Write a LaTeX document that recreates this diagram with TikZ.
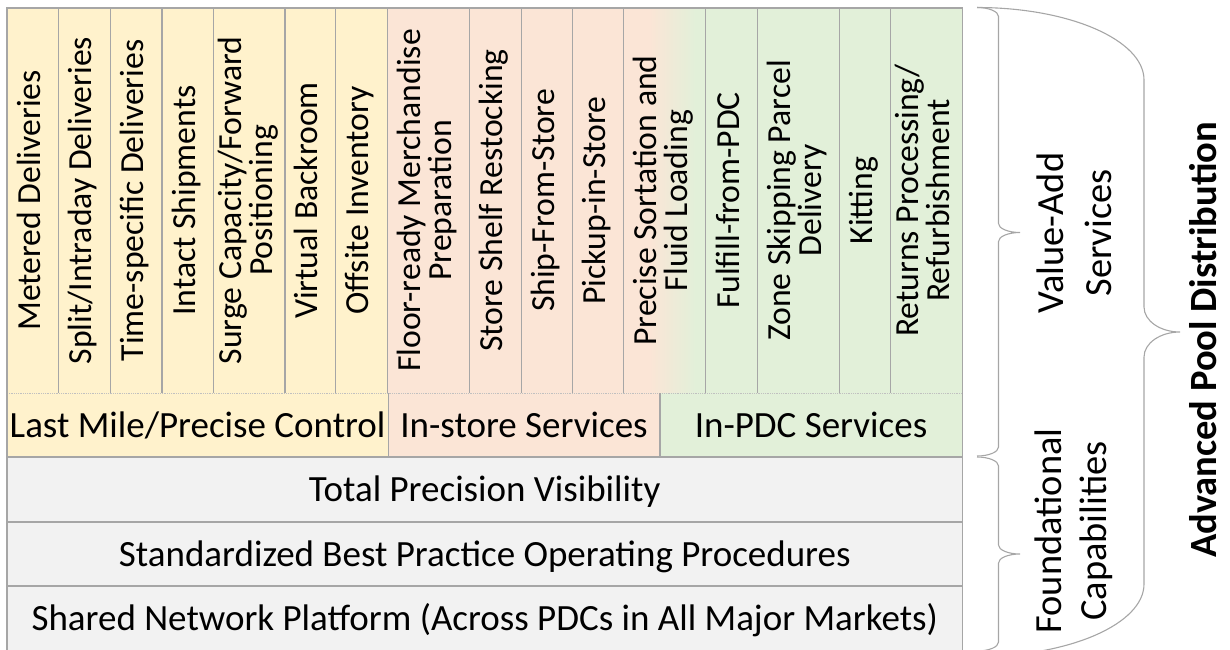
\documentclass[tikz,border=0pt]{standalone}
\usepackage{fontspec}
\setmainfont{Carlito}
\definecolor{cyel}{HTML}{FFF2CC}
\definecolor{cpea}{HTML}{FBE5D6}
\definecolor{cgre}{HTML}{E2F0D9}
\definecolor{cgry}{HTML}{F2F2F2}
\definecolor{cline}{HTML}{A6A6A6}
\definecolor{cdot}{HTML}{C0C0C0}
\newcommand{\vs}{\rule[-0.32em]{0pt}{1.08em}}
\newcommand{\hs}{\rule[-0.24em]{0pt}{1.14em}}
\newcommand{\colcell}[5]{%
  \fill[#4] (#1,8) rectangle (#2,393);
  \node[coltext] (#3) at ({(#1+#2)/2},200.5) {#5};}
\lineskiplimit=-100pt
\tikzset{
  coltext/.style={rotate=90, align=center, inner sep=0pt, text=black,
    font=\fontsize{33.7}{31}\selectfont},
  rowtext/.style={inner sep=0pt, text=black,
    font=\fontsize{37}{44}\selectfont},
  sidetext/.style={rotate=90, align=center, inner sep=0pt, text=black,
    font=\fontsize{38.4}{48}\selectfont},
  sidetextb/.style={rotate=90, align=center, inner sep=0pt, text=black,
    font=\fontsize{38.4}{45}\selectfont},
  boldtext/.style={rotate=90, inner sep=0pt, text=black,
    font=\fontsize{38.5}{45}\selectfont\bfseries},
  gridline/.style={draw=cline, line width=1.3pt},
  bracestyle/.style={draw=cline, line width=1.1pt},
}
\begin{document}
\begin{tikzpicture}[x=1pt, y=-1pt]
\useasboundingbox (0,0) rectangle (1230,649);
% top columns
\colcell{7}{58.3}{c1}{cyel}{\vs Metered Deliveries}
\colcell{58.3}{110.3}{c2}{cyel}{\vs Split/Intraday Deliveries}
\colcell{110.3}{162}{c3}{cyel}{\vs Time-specific Deliveries}
\colcell{162}{213.7}{c4}{cyel}{\vs Intact Shipments}
\colcell{213.7}{285}{c5}{cyel}{\vs Surge Capacity/Forward\\\vs Positioning}
\colcell{285}{335.7}{c6}{cyel}{\vs Virtual Backroom}
\colcell{335.7}{387.3}{c7}{cyel}{\vs Offsite Inventory}
\colcell{387.3}{469.3}{c8}{cpea}{\vs Floor-ready Merchandise\\\vs Preparation}
\colcell{469.3}{521.3}{c9}{cpea}{\vs Store Shelf Restocking}
\colcell{521.3}{572.7}{c10}{cpea}{\vs Ship-From-Store}
\colcell{572.7}{623.7}{c11}{cpea}{\vs Pickup-in-Store}
\fill[cpea] (623.7,8) rectangle (650,393);
\shade[left color=cpea, right color=cgre] (649.5,8) rectangle (695.5,393);
\fill[cgre] (695,8) rectangle (705.7,393);
\node[coltext] (c12) at (664.7,200.5) {\vs Precise Sortation and\\\vs Fluid Loading};
\colcell{705.7}{757.5}{c13}{cgre}{\vs Fulfill-from-PDC}
\colcell{757.5}{839.3}{c14}{cgre}{\vs Zone Skipping Parcel\\\vs Delivery}
\colcell{839.3}{890.7}{c15}{cgre}{\vs Kitting}
\colcell{890.7}{962.5}{c16}{cgre}{\vs Returns Processing/\\\vs Refurbishment}
% category row
\fill[cyel] (7,393) rectangle (388.3,457);
\fill[cpea] (388.3,393) rectangle (660,457);
\fill[cgre] (660,393) rectangle (962.5,457);
\node[rowtext] (k1) at (197.6,425) {\hs Last Mile/Precise Control};
\node[rowtext] (k2) at (524,425) {\hs In-store Services};
\node[rowtext] (k3) at (811,425) {\hs In-PDC Services};
% foundational rows
\fill[cgry] (7,457) rectangle (962.5,652);
\node[rowtext] (r1) at (484.7,489.5) {\hs Total Precision Visibility};
\node[rowtext] (r2) at (484.7,554) {\hs Standardized Best Practice Operating Procedures};
\node[rowtext] (r3) at (484.7,618) {\hs Shared Network Platform (Across PDCs in All Major Markets)};
% grid lines
\foreach \xx in {58.3,110.3,162,213.7,285,335.7,387.3,469.3,521.3,572.7,623.7,705.7,757.5,839.3,890.7}
  \draw[gridline] (\xx,8) -- (\xx,393);
\draw[draw=cdot, line width=1pt, dash pattern=on 0.9pt off 0.9pt] (7,393) -- (962.5,393);
\draw[gridline] (388.3,393) -- (388.3,457);
\draw[gridline] (660,393) -- (660,457);
\draw[gridline] (7,457) -- (962.5,457);
\draw[gridline] (7,522) -- (962.5,522);
\draw[gridline] (7,586) -- (962.5,586);
\draw[gridline] (7,8) rectangle (962.5,652);
% braces
\draw[bracestyle] (977,7.5) .. controls (988.9,7.5) and (998.5,11.5) .. (998.5,16.5)
  -- (998.5,223.5) .. controls (998.5,228.5) and (1008.1,232.5) .. (1020,232.5)
  .. controls (1008.1,232.5) and (998.5,236.5) .. (998.5,241.5)
  -- (998.5,447) .. controls (998.5,452) and (988.9,456) .. (977,456);
\draw[bracestyle] (977,457) .. controls (988.9,457) and (998.5,461) .. (998.5,466)
  -- (998.5,545) .. controls (998.5,550) and (1008.1,554) .. (1020,554)
  .. controls (1008.1,554) and (998.5,558) .. (998.5,563)
  -- (998.5,642) .. controls (998.5,647) and (988.9,651) .. (977,651);
\draw[bracestyle] (977,7.5) .. controls (1069.2,7.5) and (1144,40) .. (1144,80)
  -- (1144,307) .. controls (1144,320.8) and (1160.1,332) .. (1180,332)
  .. controls (1160.1,332) and (1144,343.2) .. (1144,357)
  -- (1144,584) .. controls (1144,624) and (1069.2,656.5) .. (977,656.5);
% side labels
\node[sidetext] (va) at (1079,233) {\vs Value-Add\\\vs Services};
\node[sidetextb] (fc) at (1076,531) {\vs Foundational\\\vs Capabilities};
\node[boldtext] (apd) at (1208.4,340) {\vs Advanced Pool Distribution};
\end{tikzpicture}
\end{document}
